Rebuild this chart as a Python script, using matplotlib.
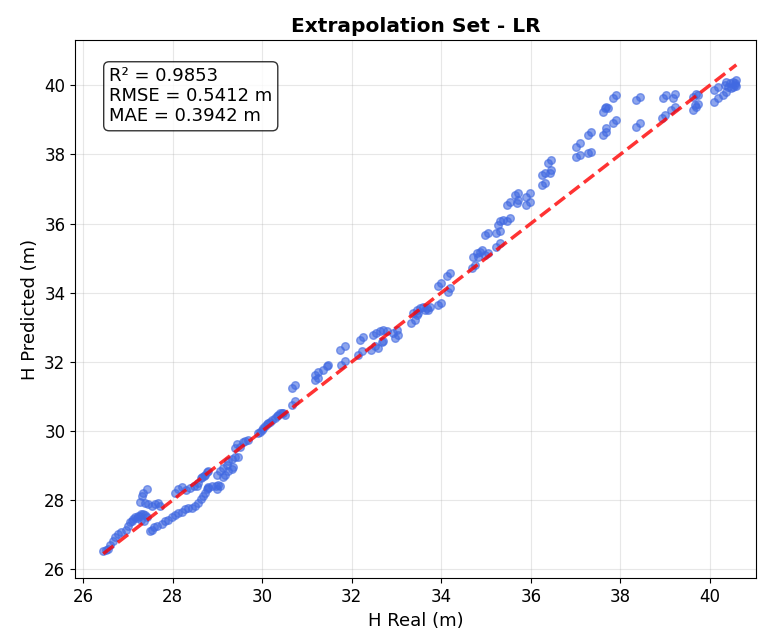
import matplotlib
matplotlib.use("Agg")
import matplotlib.pyplot as plt
import numpy as np

# Real vs predicted H (m)
h_real = [
    26.45, 26.51, 26.55, 26.60, 26.67, 26.71, 26.78, 26.85, 26.96, 27.00, 27.05, 27.09, 27.12, 27.16, 27.20,
    27.23, 27.26, 27.29, 27.33, 27.38, 27.43, 27.30, 27.35,
    27.27, 27.32, 27.34, 27.43, 27.38, 27.45, 27.54, 27.61, 27.67, 27.72,
    27.50, 27.54, 27.58, 27.65, 27.76, 27.83, 27.90, 27.99, 28.05, 28.12, 28.21, 28.28, 28.34, 28.43,
    28.50, 28.57, 28.63, 28.68, 28.72, 28.79, 28.88, 28.97, 29.01,
    28.05, 28.12, 28.21, 28.30, 28.39, 28.48, 28.57, 28.63, 28.70, 28.77,
    28.54, 28.65, 28.72, 28.79, 28.76, 28.79, 28.98, 29.06, 28.98, 29.06, 29.13, 29.21, 29.24, 29.32, 29.39,
    29.46, 29.13, 29.17, 29.24, 29.32, 29.35, 29.39, 29.43, 29.50, 29.57, 29.62, 29.68,
    29.91, 29.95, 29.99, 30.02, 30.06, 30.10, 30.13, 30.17, 30.21, 30.29, 30.32, 30.35, 30.40, 30.44, 30.46,
    30.51, 30.66, 30.73, 30.66, 30.73,
    31.18, 31.25, 31.18, 31.25, 31.36, 31.44, 31.47, 31.77, 31.85, 31.74, 31.85, 32.14, 32.22, 32.18, 32.25,
    32.44, 32.52, 32.58, 32.67, 32.70, 32.47, 32.55, 32.63, 32.70, 32.78, 32.92, 33.00, 32.96, 33.03,
    33.33, 33.41, 33.45, 33.48,
    33.37, 33.45, 33.52, 33.60, 33.67, 33.75, 33.63, 33.70, 33.93, 34.00, 34.15, 34.19, 33.93, 34.00,
    34.12, 34.19, 34.68, 34.75, 34.71, 34.79, 34.86, 34.90, 34.82, 34.97, 35.05, 34.97, 35.05, 35.23,
    35.31, 35.23, 35.31, 35.27, 35.31, 35.38, 35.46, 35.53, 35.46, 35.53, 35.68, 35.71,
    35.64, 35.72, 35.90, 35.98, 35.90, 35.98, 36.24, 36.31, 36.24, 36.31, 36.42, 36.46, 36.39, 36.46,
    37.02, 37.09, 37.02, 37.09, 37.28, 37.35, 37.28, 37.35, 37.61, 37.69, 37.69, 37.61, 37.65, 37.69,
    37.73, 37.84, 37.91, 37.84, 37.91,
    38.36, 38.43, 38.36, 38.43, 38.92, 38.99, 38.95, 39.03, 39.18, 39.21, 39.14, 39.21,
    39.62, 39.70, 39.66, 39.73, 39.62, 39.70, 39.73, 40.10, 40.18, 40.10, 40.18, 40.29, 40.37, 40.33,
    40.37, 40.44, 40.51, 40.55, 40.59, 40.48, 40.55, 40.40, 40.58, 40.52,
]
h_pred = [
    26.52, 26.55, 26.60, 26.69, 26.81, 26.92, 27.01, 27.08, 27.15, 27.24, 27.36, 27.41, 27.45, 27.50, 27.48,
    27.53, 27.55, 27.59, 27.60, 27.56, 27.50, 27.44, 27.40,
    27.96, 28.11, 28.22, 28.31, 27.93, 27.88, 27.82, 27.88, 27.93, 27.82,
    27.10, 27.15, 27.21, 27.24, 27.30, 27.39, 27.44, 27.50, 27.56, 27.62, 27.67, 27.73, 27.76, 27.76,
    27.82, 27.91, 28.02, 28.11, 28.22, 28.34, 28.42, 28.40, 28.45,
    28.22, 28.31, 28.37, 28.28, 28.34, 28.40, 28.51, 28.63, 28.71, 28.80,
    28.40, 28.66, 28.74, 28.83, 28.31, 28.37, 28.31, 28.40, 28.74, 28.83, 28.94, 29.03, 29.12, 29.18, 29.26,
    29.26, 28.66, 28.74, 28.83, 28.89, 28.97, 29.52, 29.61, 29.55, 29.67, 29.70, 29.75,
    29.95, 29.98, 30.04, 30.10, 30.13, 30.19, 30.24, 30.27, 30.33, 30.39, 30.42, 30.47, 30.53, 30.53, 30.53,
    30.47, 30.76, 30.86, 31.25, 31.34,
    31.48, 31.54, 31.63, 31.72, 31.77, 31.87, 31.92, 31.92, 32.01, 32.35, 32.45, 32.21, 32.30, 32.64, 32.73,
    32.35, 32.45, 32.41, 32.56, 32.59, 32.78, 32.84, 32.88, 32.93, 32.88, 32.84, 32.93, 32.70, 32.78,
    33.13, 33.22, 33.36, 33.42,
    33.41, 33.51, 33.55, 33.60, 33.55, 33.60, 33.51, 33.51, 33.65, 33.70, 34.03, 34.13, 34.18, 34.28,
    34.47, 34.57, 34.71, 34.81, 35.04, 35.14, 35.19, 35.24, 35.04, 35.09, 35.14, 35.67, 35.72, 35.33,
    35.43, 35.72, 35.77, 35.96, 36.06, 36.11, 36.06, 36.15, 36.54, 36.63, 36.59, 36.68,
    36.83, 36.87, 36.54, 36.63, 36.78, 36.87, 37.11, 37.16, 37.40, 37.45, 37.45, 37.55, 37.74, 37.84,
    37.93, 37.98, 38.22, 38.32, 38.03, 38.07, 38.56, 38.65, 38.56, 38.65, 38.75, 39.23, 39.33, 39.38,
    39.33, 38.90, 38.99, 39.62, 39.72,
    38.80, 38.90, 39.57, 39.66, 39.04, 39.14, 39.62, 39.71, 39.62, 39.76, 39.29, 39.38,
    39.29, 39.38, 39.43, 39.47, 39.66, 39.76, 39.71, 39.52, 39.62, 39.86, 39.95, 39.71, 39.81, 40.00,
    40.10, 40.05, 39.95, 40.05, 40.14, 39.91, 40.00, 39.95, 39.98, 40.08,
]

metrics_text = "R² = 0.9853\nRMSE = 0.5412 m\nMAE = 0.3942 m"

fig = plt.figure(figsize=(7.58, 6.39), dpi=100)
ax = fig.add_axes([0.099, 0.095, 0.899, 0.842])

ax.scatter(h_real, h_pred, s=30, color="royalblue", alpha=0.6, zorder=3)
lo = min(min(h_real), min(h_pred))
hi = max(max(h_real), max(h_pred))
ax.plot([lo, hi], [lo, hi], "r--", lw=2.5, alpha=0.8, zorder=4)

ax.set_xlim(25.82, 41.04)
ax.set_ylim(25.74, 41.30)
ax.set_xticks(np.arange(26, 41, 2))
ax.set_yticks(np.arange(26, 41, 2))
ax.tick_params(labelsize=12)
ax.grid(True, alpha=0.3)
ax.set_xlabel("H Real (m)", fontsize=13)
ax.set_ylabel("H Predicted (m)", fontsize=13)
ax.set_title("Extrapolation Set - LR", fontsize=14.5, fontweight="bold")

ax.text(0.05, 0.95, metrics_text, transform=ax.transAxes, fontsize=13,
        va="top", ha="left", linespacing=1.15,
        bbox=dict(boxstyle="round", facecolor="white", alpha=0.8))

fig.savefig("out.png", dpi=100)
